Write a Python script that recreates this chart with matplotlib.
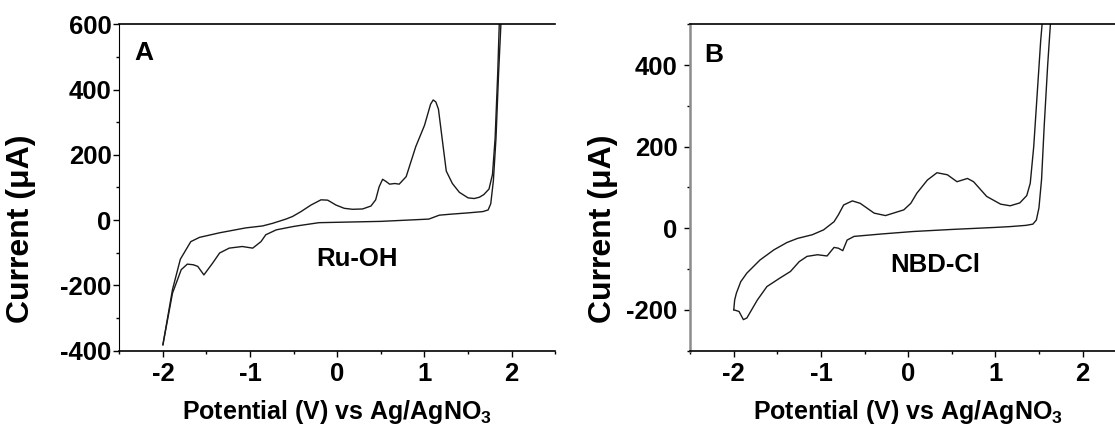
import numpy as np
import matplotlib
matplotlib.use('Agg')
import matplotlib.pyplot as plt
from matplotlib.ticker import MultipleLocator

plt.rcParams['font.family'] = ['Liberation Sans', 'DejaVu Sans']
plt.rcParams['font.weight'] = 'bold'
plt.rcParams['axes.unicode_minus'] = False
plt.rcParams['mathtext.fontset'] = 'custom'
plt.rcParams['mathtext.rm'] = 'Liberation Sans:bold'
plt.rcParams['mathtext.it'] = 'Liberation Sans:bold'
plt.rcParams['mathtext.bf'] = 'Liberation Sans:bold'

# panel A (Ru-OH): forward (upper) branch, then return (lower) branch
a_up_x = [-2.00, -1.89, -1.80, -1.68, -1.58, -1.35, -1.05, -0.857, -0.742, -0.589, -0.513,
          -0.416, -0.302, -0.187, -0.11, -0.015, 0.08, 0.175, 0.29, 0.386, 0.44, 0.48, 0.52,
          0.56, 0.60, 0.66, 0.71, 0.79, 0.90, 1.00, 1.07, 1.10, 1.13, 1.16, 1.21, 1.25,
          1.32, 1.40, 1.50, 1.57, 1.63, 1.68, 1.74, 1.78, 1.81, 1.84, 1.86]
a_up_y = [-382, -213, -120, -66, -53, -39, -24, -18, -10, 3, 11,
          26, 46, 62, 61, 46, 36, 33, 34, 43, 62, 102, 125,
          118, 110, 112, 110, 133, 225, 290, 355, 368, 362, 340, 234, 150,
          112, 85, 68, 66, 70, 78, 95, 140, 250, 450, 620]
a_dn_x = [1.88, 1.85, 1.82, 1.79, 1.76, 1.73, 1.67, 1.50, 1.30, 1.17, 1.10, 1.05, 0.50,
          -0.21, -0.44, -0.51, -0.70, -0.82, -0.875, -0.97, -1.09, -1.24, -1.35, -1.43,
          -1.53, -1.60, -1.65, -1.72, -1.79, -1.89, -2.00]
a_dn_y = [620, 450, 250, 120, 50, 31, 26, 22, 18, 15, 8, 3, -4,
          -8, -17, -20, -30, -45, -66, -86, -81, -86, -101, -132,
          -168, -142, -137, -135, -152, -224, -382]

# panel B (NBD-Cl)
b_up_x = [-2.00, -1.99, -1.97, -1.92, -1.85, -1.70, -1.54, -1.39, -1.27, -1.10, -0.97,
          -0.85, -0.80, -0.74, -0.64, -0.55, -0.39, -0.26, -0.05, 0.03, 0.10, 0.22,
          0.33, 0.45, 0.56, 0.68, 0.75, 0.90, 1.06, 1.17, 1.28, 1.36, 1.40, 1.44,
          1.48, 1.52, 1.56]
b_up_y = [-200, -176, -159, -131, -110, -78, -53, -35, -25, -16, -4,
          16, 33, 57, 67, 61, 37, 31, 45, 61, 86, 118,
          136, 131, 114, 122, 114, 78, 59, 55, 62, 80, 110, 200,
          330, 460, 560]
b_dn_x = [1.65, 1.60, 1.56, 1.53, 1.50, 1.47, 1.43, 1.35, 1.17, 1.00, 0.50, 0.06, -0.30,
          -0.62, -0.70, -0.75, -0.80, -0.85, -0.93, -1.04, -1.16, -1.25, -1.35, -1.47,
          -1.62, -1.73, -1.85, -1.89, -1.94, -2.00]
b_dn_y = [560, 400, 250, 120, 50, 20, 10, 7, 4, 2, -3, -8, -14,
          -20, -29, -55, -49, -47, -68, -65, -69, -82, -106, -122,
          -143, -176, -220, -224, -204, -200]

xticks = [-2, -1, 0, 1, 2]

fig = plt.figure(figsize=(11.15, 4.25), dpi=100)
axA = fig.add_axes([0.107, 0.175, 0.391, 0.768])
axB = fig.add_axes([0.619, 0.175, 0.391, 0.768])

lc = '#1a1a1a'
axA.plot(a_up_x, a_up_y, color=lc, lw=1.0)
axA.plot(a_dn_x, a_dn_y, color=lc, lw=1.0)
axB.plot(b_up_x, b_up_y, color=lc, lw=1.0)
axB.plot(b_dn_x, b_dn_y, color=lc, lw=1.0)

axA.set_ylim(-400, 600)
axB.set_ylim(-300, 500)
for ax, ypad, lblx in [(axA, 1.5, -0.192), (axB, 5, -0.165)]:
    ax.set_xlim(-2.5, 2.5)
    ax.set_xticks(xticks)
    ax.xaxis.set_minor_locator(MultipleLocator(0.5))
    ax.yaxis.set_major_locator(MultipleLocator(200))
    ax.yaxis.set_minor_locator(MultipleLocator(100))
    ax.tick_params(which='major', direction='out', length=4, width=1, labelsize=18.5)
    ax.tick_params(which='minor', direction='out', length=2.5, width=1)
    ax.tick_params(axis='x', which='major', pad=4)
    ax.tick_params(axis='y', which='major', pad=ypad)
    ax.spines['right'].set_visible(False)
    for s in ['top', 'bottom']:
        ax.spines[s].set_linewidth(1.2)
    ax.set_xlabel('Potential (V) vs Ag/AgNO$_3$', fontsize=18, fontweight='bold')
    ax.set_ylabel('Current (\u03bcA)', fontsize=23, fontweight='bold')
    ax.xaxis.set_label_coords(0.5, -0.145)
    ax.yaxis.set_label_coords(lblx, 0.373)

axB.spines['left'].set_color('#8c8c8c')
axB.spines['left'].set_linewidth(1.8)

axA.text(0.057, 0.912, 'A', transform=axA.transAxes, fontsize=19, fontweight='bold',
         ha='center', va='center')
axB.text(0.055, 0.906, 'B', transform=axB.transAxes, fontsize=19, fontweight='bold',
         ha='center', va='center')
axA.text(0.545, 0.281, 'Ru-OH', transform=axA.transAxes, fontsize=18.5, fontweight='bold',
         ha='center', va='center')
axB.text(0.562, 0.262, 'NBD-Cl', transform=axB.transAxes, fontsize=18.5, fontweight='bold',
         ha='center', va='center')

fig.savefig('out.png', dpi=100)
